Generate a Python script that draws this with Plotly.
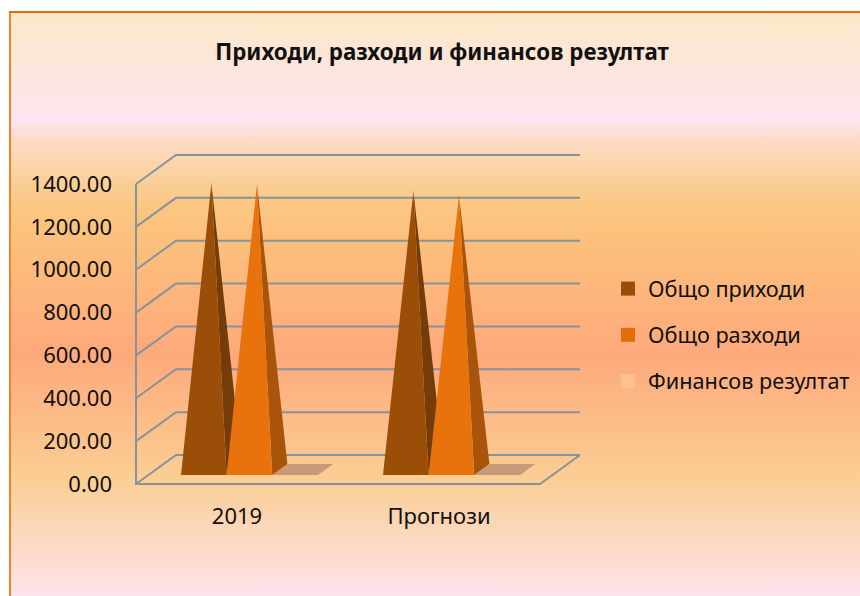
import plotly.graph_objects as go

# ---- data ----
categories = ["2019", "Прогнози"]
series_names = ["Общо приходи", "Общо разходи", "Финансов резултат"]
income = [1337, 1300]
expenses = [1332, 1281]
result = [5, 19]
value_ticks = [0, 200, 400, 600, 800, 1000, 1200, 1400]

# ---- styles ----
FRONT = ["#9A4E08", "#E8730C", "#C99A7A"]
SIDE = ["#743C08", "#A9540B", "#C99A7A"]
LEGEND_COL = ["#994D06", "#E46C0A", "#FDC193"]
GRID = "#88929B"
FONT = "Noto Sans"
W, H = 860, 596

FX0, FX1, FY0, FY1 = 128, 590, 148, 492
AX_L, CAT_W, Y0_PX = 136, 202, 484
PX_PER_VAL = 300 / 1400
DEPTH_X, DEPTH_Y = 40 / CAT_W, 29 / PX_PER_VAL
BAR_W, D0, D1 = 45.6 / CAT_W, 0.31, 0.69


def proj(c, v, d):
    return c + d * DEPTH_X, v + d * DEPTH_Y


def poly(points):
    xy = [proj(*p) for p in points]
    return [p[0] for p in xy], [p[1] for p in xy]


fig = go.Figure()

fig.add_trace(go.Scatter(
    x=[9, W, W, 9, 9], y=[12, 12, H, H, 12], mode="lines", line=dict(width=0),
    fill="toself", hoverinfo="skip", showlegend=False, xaxis="x", yaxis="y",
    fillgradient=dict(type="vertical", start=12, stop=H, colorscale=[
        [0.00, "#FBE8C6"], [0.185, "#FDE4F0"], [0.219, "#FCDCC8"], [0.27, "#FBD3A4"],
        [0.33, "#FBC783"], [0.39, "#FCC07C"], [0.585, "#FEA97C"], [0.80, "#FBCE94"],
        [1.00, "#FDE3EC"]])))


def line(points, width=2):
    x, y = poly(points)
    fig.add_trace(go.Scatter(x=x, y=y, mode="lines", line=dict(color=GRID, width=width),
                             hoverinfo="skip", showlegend=False, xaxis="x2", yaxis="y2"))


def face(points, color):
    x, y = poly(points)
    fig.add_trace(go.Scatter(x=x, y=y, mode="lines", line=dict(width=0), fill="toself",
                             fillcolor=color, hoverinfo="skip", showlegend=False,
                             xaxis="x2", yaxis="y2"))


L, R = -0.5, len(categories) - 0.5
for v in value_ticks:
    line([(L, v, 0), (L, v, 1), (R, v, 1)])
line([(L, value_ticks[-1], 0), (L, 0, 0), (R, 0, 0), (R, 0, 1)])

for s, values in [(2, result), (0, income), (1, expenses)]:
    for i, v in enumerate(values):
        c0 = i - 1.5 * BAR_W + s * BAR_W
        c1 = c0 + BAR_W
        cm = (c0 + c1) / 2
        dm = (D0 + D1) / 2
        if s == 2:
            face([(c0, 0, D0), (c1, 0, D0), (c1, 0, D1), (c0, 0, D1)], FRONT[s])
        face([(c1, 0, D0), (c1, 0, D1), (cm, v, dm)], SIDE[s])
        face([(c0, 0, D0), (c1, 0, D0), (cm, v, dm)], FRONT[s])

for s, name in enumerate(series_names):
    fig.add_trace(go.Scatter(x=[None], y=[None], mode="markers", name=name, legendgroup=name,
                             marker=dict(symbol="square", size=14, color=LEGEND_COL[s]),
                             xaxis="x2", yaxis="y2"))

fig.update_layout(
    width=W, height=H, margin=dict(l=0, r=0, t=0, b=0), autosize=False,
    paper_bgcolor="white", plot_bgcolor="rgba(0,0,0,0)",
    font=dict(family=FONT, size=21.7, color="#111111"),
    title=dict(text="<b>Приходи, разходи и финансов резултат</b>", x=442 / W, xanchor="center",
               y=1 - 52 / H, yanchor="middle", font=dict(family=FONT, size=22.3, color="#111111")),
    xaxis=dict(domain=[0, 1], range=[0, W], visible=False, fixedrange=True, automargin=False),
    yaxis=dict(domain=[0, 1], range=[H, 0], visible=False, fixedrange=True, automargin=False),
    xaxis2=dict(domain=[FX0 / W, FX1 / W], anchor="y2", showgrid=False, zeroline=False, automargin=False,
                range=[(FX0 - AX_L) / CAT_W - 0.5, (FX1 - AX_L) / CAT_W - 0.5],
                tickmode="array", tickvals=list(range(len(categories))), ticktext=categories,
                ticks="", ticklabelstandoff=9, tickfont=dict(size=22), fixedrange=True),
    yaxis2=dict(domain=[1 - FY1 / H, 1 - FY0 / H], anchor="x2", showgrid=False, zeroline=False, automargin=False,
                range=[(Y0_PX - FY1) / PX_PER_VAL, (Y0_PX - FY0) / PX_PER_VAL],
                tickmode="array", tickvals=value_ticks, tickformat=".2f",
                ticks="", ticklabelstandoff=15, tickfont=dict(size=22), fixedrange=True),
    legend=dict(x=608 / W, y=1 - 335 / H, xanchor="left", yanchor="middle",
                bgcolor="rgba(0,0,0,0)", tracegroupgap=15, itemclick=False, itemdoubleclick=False),
    shapes=[
        dict(type="line", xref="paper", yref="paper", x0=10 / W, x1=10 / W, y0=0, y1=1 - 12 / H,
             line=dict(color="#F0822A", width=2)),
        dict(type="line", xref="paper", yref="paper", x0=9 / W, x1=1, y0=1 - 12 / H, y1=1 - 12 / H,
             line=dict(color="#E46C0A", width=2)),
    ],
)

fig.write_html("out.html", config={"displayModeBar": False},
               post_script="document.body.style.margin='0';document.body.style.overflow='hidden';")
